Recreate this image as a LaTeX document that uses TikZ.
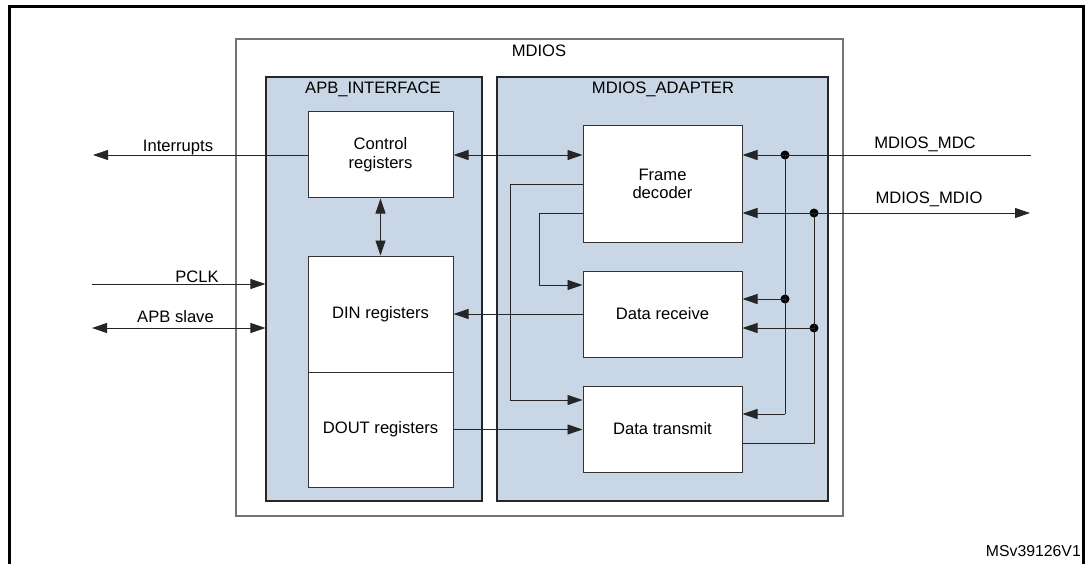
\documentclass[tikz,border=0pt]{standalone}
\usepackage{fontspec}
\setmainfont{Liberation Sans}
\usetikzlibrary{arrows.meta}
\definecolor{grpblue}{RGB}{201,214,229}
\tikzset{
  grp/.style  ={draw=black!85, fill=grpblue, line width=1.1pt, inner sep=0pt},
  outbox/.style={draw=black!55, line width=1.4pt, inner sep=0pt},
  blk/.style  ={draw=black!80, fill=white, line width=1pt, inner sep=0pt,
                align=center, minimum width=145pt},
  wide/.style ={minimum width=159pt},
  conn/.style ={line width=0.9pt, black!85},
  arr/.style  ={conn, -{Triangle[length=15pt,width=10pt]}},
  darr/.style ={conn, {Triangle[length=15pt,width=10pt]}-{Triangle[length=15pt,width=10pt]}},
  jdot/.style ={circle, fill=black, inner sep=0pt, minimum size=9pt},
  lbl/.style  ={anchor=base, inner sep=0pt},
}

\begin{document}
\begin{tikzpicture}[x=1pt, y=-1pt, font=\fontsize{16.6}{18.7}\selectfont]
  \useasboundingbox (0,0) rectangle (1089,564);
  \draw[line width=3pt] (9.5,570) -- (9.5,6.5) -- (1083.5,6.5) -- (1083.5,570);

  \node[outbox, minimum width=607pt, minimum height=477pt] (mdios) at (539.5,277.5) {};
  \node[lbl] (mdiosl) at (539,57) {MDIOS};
  \node[grp, minimum width=216pt, minimum height=424pt] (apb) at (374,289) {};
  \node[lbl] (apbl) at (373,94) {APB\_INTERFACE};
  \node[grp, minimum width=331pt, minimum height=424pt] (adapter) at (662.5,289) {};
  \node[lbl] (adapterl) at (663,94) {MDIOS\_ADAPTER};

  \node[blk, minimum height=86pt] (ctrl) at (380.5,155) {Control\\registers};
  \node[blk, minimum height=116pt] (din) at (380.5,314) {DIN registers};
  \node[blk, minimum height=115pt] (dout) at (380.5,429.5) {DOUT registers};
  \node[blk, wide, minimum height=116pt] (frame) at (662.5,184) {Frame\\decoder};
  \node[blk, wide, minimum height=86pt] (recv) at (662.5,314) {Data receive};
  \node[blk, wide, minimum height=86pt] (xmit) at (662.5,429) {Data transmit};

  \coordinate (irq) at (93,155);
  \coordinate (pclk) at (92,284);
  \coordinate (apbs) at (92,328);
  \coordinate (mdc) at (1031,155);
  \coordinate (mdio) at (1030,213);

  \draw[arr] (ctrl.west) -- (irq);
  \node[lbl] (irql) at (178,152) {Interrupts};
  \draw[arr] (pclk) -- (pclk -| apb.west);
  \node[lbl] (pclkl) at (197,282) {PCLK};
  \draw[darr] (apbs) -- (apbs -| apb.west);
  \node[lbl] (apbsl) at (175.5,322) {APB slave};

  \draw[darr] (ctrl.east) -- (ctrl.east -| frame.west);
  \draw[darr] (ctrl.south) -- (din.north);
  \draw[arr] (recv.west) -- (din.east);
  \draw[arr] (dout.east) -- (dout.east -| xmit.west);
  \draw[arr] (frame.west) -- ++(-72,0) |- ([yshift=29pt]xmit.west);
  \draw[arr] ([yshift=-29pt]frame.west) -- ++(-43,0) |- ([yshift=29pt]recv.west);

  \node[jdot] (mdcj) at (785,155) {};
  \node[jdot] (mdcr) at (785,299) {};
  \node[jdot] (mdioj) at (814,213) {};
  \node[jdot] (mdior) at (814,328) {};

  \draw[arr] (mdc) -- ([yshift=29pt]frame.east);
  \node[lbl] (mdcl) at (925,149) {MDIOS\_MDC};
  \draw[darr] ([yshift=-29pt]frame.east) -- (mdio);
  \node[lbl] (mdiol) at (929,204) {MDIOS\_MDIO};

  \draw[conn] (mdcj.center) -- (785,414);
  \draw[arr] (mdcr.center) -- ([yshift=15pt]recv.east);
  \draw[arr] (785,414) -- ([yshift=15pt]xmit.east);
  \draw[conn] (mdioj.center) |- ([yshift=-14pt]xmit.east);
  \draw[arr] (mdior.center) -- ([yshift=-14pt]recv.east);

  \node[anchor=base east, inner sep=0pt, font=\fontsize{15.8}{18}\selectfont] (ver) at (1081,556) {MSv39126V1};
\end{tikzpicture}
\end{document}
